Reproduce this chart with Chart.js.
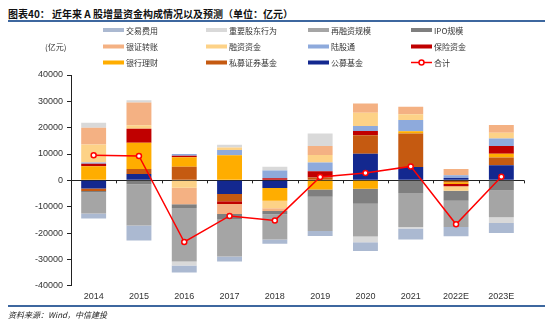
<!DOCTYPE html>
<html>
<head>
<meta charset="utf-8">
<script src="https://cdn.jsdelivr.net/npm/chart.js@4.4.0/dist/chart.umd.min.js"></script>
<style>
    html, body { margin: 0; padding: 0; background: #fff; }
    #wrap { position: relative; width: 550px; height: 325px; overflow: hidden; }
    #title { position: absolute; left: 8px; top: 6px; font: bold 10px 'Noto Sans CJK SC', sans-serif; color: #111; white-space: nowrap; }
    #topRule { position: absolute; left: 8px; top: 20px; width: 537px; height: 1.5px; background: #3d679f; }
    #bottomRule { position: absolute; left: 8px; top: 305px; width: 537px; height: 2px; background: #3d679f; }
    #source { position: absolute; left: 8px; top: 309px; font: italic 8px 'Noto Sans CJK SC', serif; color: #222; white-space: nowrap; }
    #chart { position: absolute; left: 0; top: 0; }
</style>
</head>
<body>
<div id="wrap">
    <div id="title">图表40： 近年来 A 股增量资金构成情况以及预测（单位：亿元）</div>
    <div id="topRule"></div>
    <canvas id="chart" width="550" height="325"></canvas>
    <div id="bottomRule"></div>
    <div id="source">资料来源：Wind，中信建投</div>
</div>
<script>
// categories
const years = ['2014', '2015', '2016', '2017', '2018', '2019', '2020', '2021', '2022E', '2023E'];

// series (亿元)
const publicFund   = [-3100,  2400,      0, -5200, -2900,      0, 10100,  5100,   900,  5700];
const privateFund  = [ -900,  1900,   5200, -2700,     0,   1100,  7000, 12700,  -760,  3000];
const bankWealth   = [ 5400, 10000,   3600,  9500, -4800,  -3500, -3200,   800,  -630,  1400];
const insurance    = [  900,  5300,    500, -1100,   800,   2400,  1600,     0,  -890,  2900];
const northbound   = [  500,     0,    700,  2000,  2900,   3300,  1900,  4300,  1000,  2900];
const margin       = [ 6800,  1300,  -2800,  1000, -2900,   2800,  5100,  2200, -1650,  2150];
const bankTransfer = [ 6400,  8700,  -6300, -3800, -1000,   3400,  3500,  2800,  2400,  3000];
const ipo          = [ -600, -1500,  -1400, -1900, -1300,  -2700, -5700, -4800, -3800, -3900];
const refinancing  = [-8000, -15600, -20300, -14200, -9600, -13000, -12400, -12900, -10000, -10100];
const holders      = [ 1900,   800,  -1500,  1000,  1500,   4800, -2200,  -600,     0, -2200];
const tradingFees  = [-1900, -5700,  -2700, -1900, -1600,  -1900, -3300, -4200, -3500, -3800];
const total        = [ 9500,  9250, -23400, -13500, -15200,  1300,  2800,  5300, -16700,  1400];

const yTicks = [-40000, -30000, -20000, -10000, 0, 10000, 20000, 30000, 40000];

// stacked from zero outward
const barSeries = [
    { label: '公募基金',     data: publicFund,   color: '#13288f' },
    { label: '私募证券基金', data: privateFund,  color: '#c55a11' },
    { label: '银行理财',     data: bankWealth,   color: '#ffad00' },
    { label: '保险资金',     data: insurance,    color: '#c00000' },
    { label: '陆股通',       data: northbound,   color: '#8eaadc' },
    { label: '融资资金',     data: margin,       color: '#fdd287' },
    { label: '银证转账',     data: bankTransfer, color: '#f4b183' },
    { label: 'IPO规模',      data: ipo,          color: '#7f7f7f' },
    { label: '再融资规模',   data: refinancing,  color: '#a5a5a5' },
    { label: '重要股东行为', data: holders,      color: '#d9d9d9' },
    { label: '交易费用',     data: tradingFees,  color: '#abb9d1' }
];

const datasets = [{
    type: 'line',
    label: '合计',
    data: total,
    stack: 'total',
    borderColor: '#ff0000',
    borderWidth: 1.5,
    pointRadius: 2.5,
    pointBackgroundColor: '#ffffff',
    pointBorderColor: '#ff0000',
    pointBorderWidth: 1.5,
    tension: 0
}].concat(barSeries.map(s => ({
    type: 'bar',
    label: s.label,
    data: s.data,
    stack: 'funds',
    backgroundColor: s.color,
    borderWidth: 0,
    barPercentage: 0.55,
    categoryPercentage: 1
})));

// legend laid out as a 4 x 3 grid, like the original
const gridLegend = {
    id: 'gridLegend',
    afterDraw(chart) {
        const ctx = chart.ctx;
        const ds = chart.data.datasets;
        const items = ds.slice(1).reverse().concat([ds[0]]);
        const cols = [103, 206, 308, 411];
        const rows = [30, 46.5, 62.5];
        ctx.save();
        ctx.font = "8px 'Noto Sans CJK SC'";
        ctx.textBaseline = 'middle';
        ctx.fillStyle = '#333';
        ctx.fillText('(亿元)', 45, rows[1]);
        items.forEach((d, i) => {
            const x = cols[i % 4];
            const y = rows[Math.floor(i / 4)];
            if (d.type === 'line') {
                ctx.strokeStyle = d.borderColor;
                ctx.lineWidth = 1.5;
                ctx.beginPath();
                ctx.moveTo(x, y);
                ctx.lineTo(x + 21, y);
                ctx.stroke();
                ctx.beginPath();
                ctx.arc(x + 10.5, y, 2.5, 0, Math.PI * 2);
                ctx.fillStyle = '#fff';
                ctx.fill();
                ctx.stroke();
            } else {
                ctx.fillStyle = d.backgroundColor;
                ctx.fillRect(x, y - 2, 21, 4);
            }
            ctx.fillStyle = '#333';
            ctx.fillText(d.label, x + 23, y + 0.5);
        });
        ctx.restore();
    }
};

// small tick marks on the zero line between categories
const zeroTicks = {
    id: 'zeroTicks',
    afterDatasetsDraw(chart) {
        const { ctx, chartArea, scales } = chart;
        const y0 = scales.y.getPixelForValue(0);
        const step = (chartArea.right - chartArea.left) / years.length;
        ctx.save();
        ctx.strokeStyle = '#222';
        ctx.lineWidth = 1;
        for (let i = 1; i <= years.length; i++) {
            const x = Math.round(chartArea.left + i * step) + 0.5;
            ctx.beginPath();
            ctx.moveTo(x, y0);
            ctx.lineTo(x, y0 + 3);
            ctx.stroke();
        }
        ctx.restore();
    }
};

new Chart(document.getElementById('chart'), {
    data: { labels: years, datasets: datasets },
    options: {
        responsive: false,
        animation: false,
        layout: { padding: { left: 0, right: 26, top: 75, bottom: 0 } },
        plugins: {
            legend: { display: false },
            tooltip: { enabled: false }
        },
        scales: {
            x: {
                stacked: true,
                grid: { display: false, drawTicks: false },
                border: { display: false },
                ticks: { padding: 5, color: '#333', font: { family: "'Liberation Sans', Arial", size: 9 } },
                afterFit: s => { s.height = 39.3; }
            },
            y: {
                stacked: true,
                min: -40000,
                max: 40000,
                afterBuildTicks: s => { s.ticks = yTicks.map(v => ({ value: v })); },
                grid: {
                    color: c => (c.tick && c.tick.value === 0 ? '#222' : 'rgba(0,0,0,0)'),
                    tickColor: '#222',
                    tickLength: 4
                },
                border: { display: true, color: '#222', width: 1 },
                ticks: {
                    padding: 4,
                    color: '#333',
                    font: { family: "'Liberation Sans', Arial", size: 9 },
                    callback: v => String(v)
                },
                afterFit: s => { s.width = 71; }
            }
        }
    },
    plugins: [gridLegend, zeroTicks]
});
</script>
</body>
</html>
